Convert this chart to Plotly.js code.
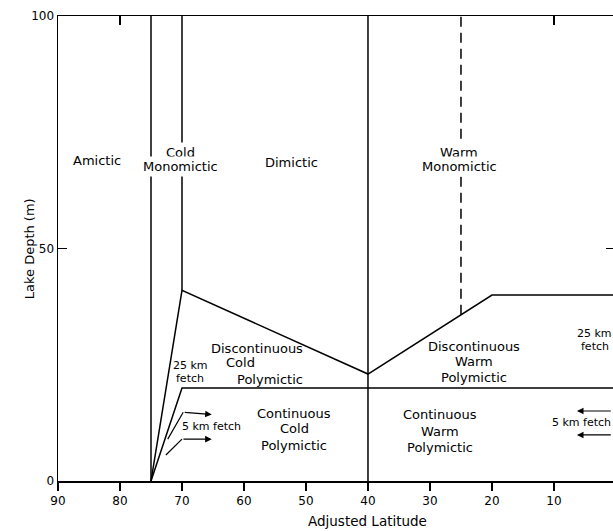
<!DOCTYPE html>
<html><head><meta charset="utf-8">
<script src="https://cdn.plot.ly/plotly-3.0.1.min.js"></script>
<style>html,body{margin:0;padding:0;background:#fff}#chart{width:613px;height:531px}</style>
</head><body><div id="chart"></div>
<script>
// Boundary lines (x = adjusted latitude, y = lake depth m)
const amicticX = [75, 75], amicticY = [0, 100];
const coldMonoX = [70, 70], coldMonoY = [41, 100];
const dimicticX = [75, 70, 40, 20, 0.48], dimicticY = [0, 41, 23, 40, 40];
const lat40X = [40, 40], lat40Y = [0, 100];
const contX = [75, 70, 0.48], contY = [0, 20, 20];
const warmMonoX = [25, 25], warmMonoY = [35.75, 100];
// fetch arrows (polyline part)
const arrowUpX = [72.3, 69.8], arrowUpY = [9.0, 14.8];
const arrowLoX = [72.6, 70.0], arrowLoY = [5.6, 9.0];
// arrow heads: [headX, headY, tailX, tailY]
const arrowHeads = [[65.2, 14.3, 69.8, 14.8], [65.2, 9.0, 70.0, 9.0], [6.3, 15.05, 0.6, 15.05], [6.3, 9.9, 0.6, 9.9]];
// region labels: [text, x, y, size]
const labels = [
  ['Amictic', 83.7, 69.0, 13],
  ['Dimictic', 52.4, 68.6, 13],
  ['Discontinuous', 57.9, 28.4, 13], ['Cold', 60.6, 25.4, 13], ['Polymictic', 55.8, 21.9, 13],
  ['Continuous', 51.9, 14.6, 13], ['Cold', 51.9, 11.2, 13], ['Polymictic', 51.9, 7.7, 13],
  ['Discontinuous', 22.9, 29.0, 13], ['Warm', 22.9, 25.6, 13], ['Polymictic', 22.9, 22.2, 13],
  ['Continuous', 28.4, 14.4, 13], ['Warm', 28.4, 10.75, 13], ['Polymictic', 28.4, 7.3, 13],
  ['25 km', 68.7, 24.9, 11], ['fetch', 68.7, 22.1, 11],
  ['5 km fetch', 65.3, 11.8, 11],
  ['5 km fetch', 5.6, 12.5, 11],
  ['25 km', 3.4, 31.7, 11], ['fetch', 3.4, 28.9, 11]
];
const boxedLabels = [
  ['Cold', 70.2, 70.75], ['Monomictic', 70.2, 67.7],
  ['Warm', 25.3, 70.75], ['Monomictic', 25.3, 67.7]
];
const xTicks = [90, 80, 70, 60, 50, 40, 30, 20, 10];
const topTicks = [80, 10];
const yTicks = [0, 50, 100];

const FONT = 'DejaVu Sans, sans-serif';
const solid = {color: '#000', width: 1.5};
function ln(x, y, extra) {
  return Object.assign({x: x, y: y, mode: 'lines', line: solid, hoverinfo: 'skip', showlegend: false}, extra || {});
}
const traces = [
  ln(amicticX, amicticY), ln(coldMonoX, coldMonoY), ln(dimicticX, dimicticY),
  ln(lat40X, lat40Y, {xaxis: 'x2', yaxis: 'y2'}), ln(contX, contY),
  ln(warmMonoX, warmMonoY, {line: {color: '#000', width: 1.5, dash: '10px,6px'}}),
  ln(arrowUpX, arrowUpY, {line: {color: '#000', width: 1.2}}),
  ln(arrowLoX, arrowLoY, {line: {color: '#000', width: 1.2}})
];
const ann = [];
labels.forEach(l => ann.push({text: l[0], x: l[1], y: l[2], xref: 'x', yref: 'y', showarrow: false,
  font: {family: FONT, size: l[3], color: '#000'}}));
boxedLabels.forEach(l => ann.push({text: l[0], x: l[1], y: l[2], xref: 'x', yref: 'y', showarrow: false,
  bgcolor: '#fff', borderpad: 2, font: {family: FONT, size: 13, color: '#000'}}));
arrowHeads.forEach(a => ann.push({text: '', x: a[0], y: a[1], ax: a[2], ay: a[3], xref: 'x', yref: 'y',
  axref: 'x', ayref: 'y', showarrow: true, arrowhead: 2, arrowsize: 1.1, arrowwidth: 1.2, arrowcolor: '#000'}));
ann.push({text: 'Adjusted Latitude', x: 40, y: -0.085, xref: 'x', yref: 'paper', yanchor: 'middle',
  showarrow: false, font: {family: FONT, size: 13.5, color: '#000'}});
ann.push({text: 'Lake Depth (m)', x: -0.068, y: 0.5, xref: 'paper', yref: 'paper', textangle: -90,
  showarrow: false, font: {family: FONT, size: 13, color: '#000'}});

const layout = {
  width: 613, height: 531,
  margin: {l: 58, r: 0, t: 16, b: 50},
  paper_bgcolor: '#fff', plot_bgcolor: '#fff',
  font: {family: FONT, size: 12, color: '#000'},
  xaxis: {range: [90, 0.48], tickvals: xTicks, ticks: 'outside', ticklen: 8, tickwidth: 1.5, tickcolor: '#000',
    showline: true, linecolor: '#000', linewidth: 1.5, showgrid: false, zeroline: false, fixedrange: true,
    tickfont: {family: FONT, size: 12}},
  xaxis2: {range: [90, 0.48], overlaying: 'x', side: 'top', tickvals: topTicks, ticks: 'inside', ticklen: 9,
    tickwidth: 1.5, tickcolor: '#000', showticklabels: false, showline: true, linecolor: '#000', linewidth: 1.5,
    showgrid: false, zeroline: false, anchor: 'y2'},
  yaxis: {range: [0, 100], tickvals: yTicks, ticks: 'inside', ticklen: 9, tickwidth: 1.5, tickcolor: '#000',
    showline: true, linecolor: '#000', linewidth: 1.5, showgrid: false, zeroline: false, fixedrange: true,
    tickfont: {family: FONT, size: 12}},
  yaxis2: {range: [0, 100], overlaying: 'y', side: 'right', tickvals: [50], ticks: 'inside', ticklen: 7,
    tickwidth: 1.5, tickcolor: '#000', showticklabels: false, showline: false, showgrid: false, zeroline: false,
    anchor: 'x2'},
  annotations: ann,
  showlegend: false
};
Plotly.newPlot('chart', traces, layout, {staticPlot: true, displayModeBar: false});
</script></body></html>
